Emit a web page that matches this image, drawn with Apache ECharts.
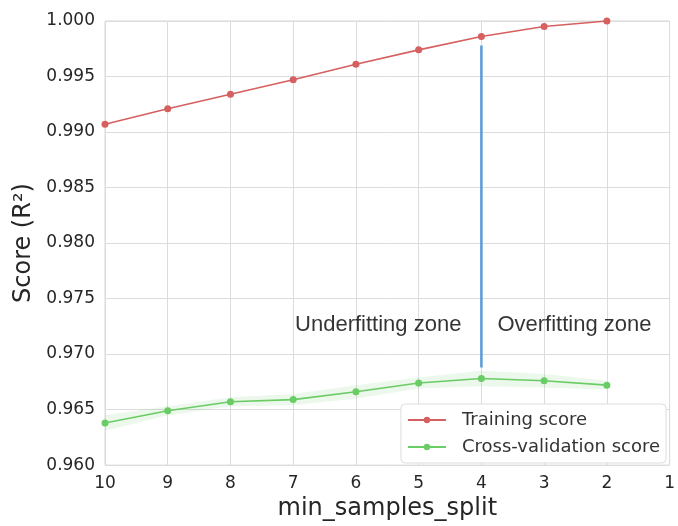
<!DOCTYPE html>
<html>
<head>
<meta charset="utf-8">
<script src="https://cdn.jsdelivr.net/npm/echarts@6/dist/echarts.min.js"></script>
<style>
html,body{margin:0;padding:0;background:#fff;}
#chart{width:678px;height:526px;}
</style>
</head>
<body>
<div id="chart"></div>
<script>
// x values (min_samples_split)
var xValues = [10, 9, 8, 7, 6, 5, 4, 3, 2];
// Training score (mean)
var trainScore = [0.9907, 0.9921, 0.9934, 0.9947, 0.9961, 0.9974, 0.9986, 0.9995, 1.0000];
// Cross-validation score (mean)
var cvScore = [0.9638, 0.9649, 0.9657, 0.9659, 0.9666, 0.9674, 0.9678, 0.9676, 0.9672];
// Cross-validation score std (band half-width)
var cvStd = [0.0007, 0.0004, 0.0004, 0.0005, 0.0006, 0.0005, 0.0007, 0.0006, 0.0004];
// Divider between zones
var dividerX = 4;
var dividerY = [0.9688, 0.9978];
var zoneLabelY = 0.9726;
var legendNames = ['Training score', 'Cross-validation score'];
var yTicks = { min: 0.96, max: 1.0, interval: 0.005 };
var xTicks = { min: 1, max: 10, interval: 1 };

var red = '#d65f5f', green = '#6acc64', blue = '#5a9ad8';
var fontMain = 'DejaVu Sans';

function pairs(xs, ys) { return xs.map(function (x, i) { return [x, ys[i]]; }); }
var cvUpper = cvScore.map(function (v, i) { return v + cvStd[i]; });
var cvLower = cvScore.map(function (v, i) { return v - cvStd[i]; });

var chart = echarts.init(document.getElementById('chart'));
chart.setOption({
  animation: false,
  backgroundColor: '#fff',
  grid: { left: 105, right: 5, top: 21, bottom: 55, show: true, borderColor: '#d9d9d9', borderWidth: 1 },
  xAxis: {
    type: 'value', inverse: true,
    min: xTicks.min, max: xTicks.max, interval: xTicks.interval,
    name: 'min_samples_split', nameLocation: 'middle', nameGap: 30,
    nameTextStyle: { fontFamily: fontMain, fontSize: 24, color: '#262626' },
    axisLine: { show: false }, axisTick: { show: false },
    axisLabel: { fontFamily: fontMain, fontSize: 17, color: '#262626', margin: 10 },
    splitLine: { show: true, lineStyle: { color: '#dcdcdc', width: 1 } }
  },
  yAxis: {
    type: 'value',
    min: yTicks.min, max: yTicks.max, interval: yTicks.interval,
    name: 'Score (R²)', nameLocation: 'middle', nameGap: 67,
    nameTextStyle: { fontFamily: fontMain, fontSize: 24, color: '#262626' },
    axisLine: { show: false }, axisTick: { show: false },
    axisLabel: { fontFamily: fontMain, fontSize: 17, color: '#262626', margin: 10,
      formatter: function (v) { return v.toFixed(3); } },
    splitLine: { show: true, lineStyle: { color: '#dcdcdc', width: 1 } }
  },
  legend: {
    data: legendNames,
    orient: 'vertical', right: 12, bottom: 63,
    backgroundColor: '#fff', borderColor: '#dddddd', borderWidth: 1, borderRadius: 4,
    padding: [7, 6, 7, 6], itemGap: 9, itemWidth: 38, itemHeight: 8,
    textStyle: { fontFamily: fontMain, fontSize: 18, color: '#333', padding: [0, 0, 0, 11] }
  },
  series: [
    {
      name: 'cvBand', type: 'custom', silent: true, z: 1,
      data: pairs(xValues, cvScore),
      renderItem: function (params, api) {
        if (params.dataIndex !== 0) return null;
        var pts = [];
        for (var i = 0; i < xValues.length; i++) pts.push(api.coord([xValues[i], cvUpper[i]]));
        for (var j = xValues.length - 1; j >= 0; j--) pts.push(api.coord([xValues[j], cvLower[j]]));
        return { type: 'polygon', shape: { points: pts }, style: { fill: green, opacity: 0.13 } };
      }
    },
    {
      name: 'Training score', type: 'line', data: pairs(xValues, trainScore),
      color: red, symbol: 'circle', symbolSize: 7, lineStyle: { width: 1.6, color: red },
      itemStyle: { color: red }, z: 3
    },
    {
      name: 'Cross-validation score', type: 'line', data: pairs(xValues, cvScore),
      color: green, symbol: 'circle', symbolSize: 7, lineStyle: { width: 1.6, color: green },
      itemStyle: { color: green }, z: 3
    },
    {
      name: 'divider', type: 'line', data: [[dividerX, dividerY[0]], [dividerX, dividerY[1]]],
      symbol: 'none', lineStyle: { width: 2.5, color: blue }, z: 2
    },
    {
      name: 'zones', type: 'scatter', symbolSize: 0, silent: true, z: 4,
      data: [
        { value: [dividerX, zoneLabelY], label: { show: true, position: 'left', distance: 20, formatter: 'Underfitting zone' } },
        { value: [dividerX, zoneLabelY], label: { show: true, position: 'right', distance: 16, formatter: 'Overfitting zone' } }
      ],
      label: { fontFamily: 'Liberation Sans', fontSize: 22, color: '#000' }
    }
  ]
});
</script>
</body>
</html>
